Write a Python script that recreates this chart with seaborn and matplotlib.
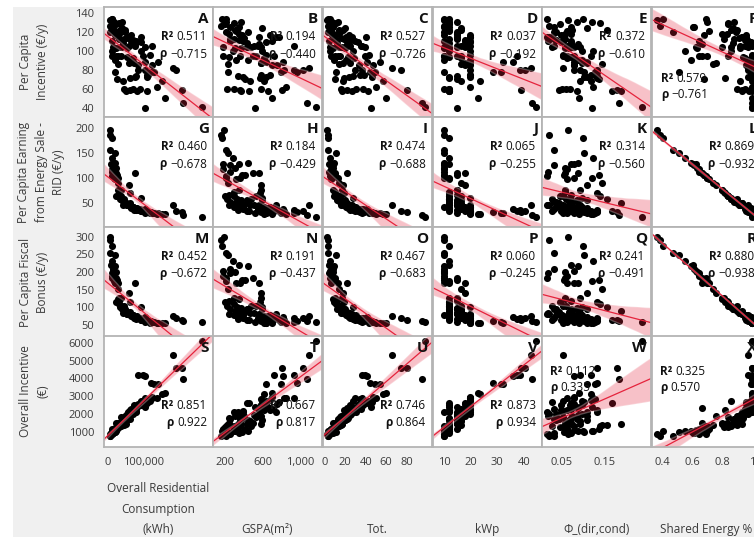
import numpy as np
import pandas as pd
import matplotlib
matplotlib.use('Agg')
import matplotlib.pyplot as plt
import seaborn as sns
from matplotlib.collections import PolyCollection
from matplotlib.patches import Rectangle

sns.set_style('white')
plt.rcParams['font.family'] = ['Open Sans', 'DejaVu Sans']

# ---- data (one entry per community) ----
tot = [2, 3, 3, 4, 4, 5, 5, 6, 6, 7, 7, 8, 8, 9, 9, 10, 10, 11, 11, 12,
       12, 13, 13, 14, 14, 15, 15, 16, 16, 17, 17, 18, 18, 19, 19, 20, 20, 21, 21, 22,
       22, 23, 24, 24, 25, 25, 26, 27, 27, 28, 28, 29, 30, 30, 31, 32, 33, 34, 35, 36,
       36, 37, 38, 39, 39, 40, 41, 42, 43, 44, 45, 46, 47, 49, 50, 54, 57, 60, 66, 74,
       80, 95, 98, 3, 5, 8, 10, 14, 18, 23]

consumption = [6500, 7300, 10500, 10800, 8600, 14900, 11500, 20300, 12200, 19800,
               17000, 23800, 28100, 19400, 24300, 32400, 24300, 32700, 20800, 32400,
               42100, 29800, 40400, 37800, 28400, 48600, 38500, 45400, 56200, 36700,
               50500, 48600, 60800, 46200, 61600, 54000, 40500, 65200, 53900, 62400,
               77200, 52800, 64800, 77800, 60800, 74300, 70200, 83800, 58300, 79400,
               94500, 70500, 81000, 105000, 71100, 95000, 84600, 110000, 75600, 85000,
               126000, 89900, 113000, 100000, 105000, 95000, 104000, 110000, 118000, 121000,
               105000, 112000, 125000, 130000, 138000, 141000, 154000, 163000, 186000, 192000,
               210000, 212000, 266000, 5000, 13000, 15000, 26000, 33000, 42000, 66000]

gspa = [198, 213, 170, 256, 354, 179, 216, 323, 180, 386, 212, 313, 355, 445, 203, 304, 500, 297, 241, 242,
        438, 367, 371, 478, 232, 442, 527, 221, 401, 586, 373, 308, 588, 253, 572, 374, 590, 319, 564, 360,
        558, 243, 676, 393, 511, 582, 349, 657, 746, 339, 590, 617, 398, 825, 296, 635, 756, 586, 551, 931,
        935, 585, 677, 722, 440, 777, 819, 460, 640, 965, 520, 634, 700, 792, 850, 640, 620, 700, 1087, 1028,
        808, 1070, 1163, 160, 290, 260, 420, 330, 470, 700]

kwp = [9.9, 9.9, 12, 9.9, 12, 9.9, 9.9, 12, 9.9, 9.9, 12, 9.9, 15, 9.9, 12, 12, 15, 12, 9.9, 15,
       12, 9.9, 15, 12, 16.5, 15, 16.5, 12, 15, 15, 12, 16.5, 18, 15, 12, 12, 16.5, 19.8, 15, 12,
       18, 12, 19.8, 12, 15, 19.8, 18, 12, 19.8, 15, 19.8, 16.5, 18, 19.8, 9.9, 19.8, 18, 19.8, 16.5, 38.5,
       19.8, 12, 19.8, 37.5, 18, 19.8, 36, 12, 19.8, 28.4, 15, 19.8, 19.8, 31.4, 19.8, 32, 23.5, 22.8, 42.5, 40.4,
       39, 43, 44.5, 9.9, 12, 9.9, 15, 12, 16.5, 19.8]

phi = [0.065, 0.033, 0.100, 0.018, 0.071, 0.078, 0.015, 0.063, 0.063, 0.055,
       0.120, 0.058, 0.058, 0.088, 0.047, 0.058, 0.058, 0.140, 0.103, 0.073,
       0.073, 0.078, 0.085, 0.028, 0.143, 0.038, 0.053, 0.060, 0.018, 0.093,
       0.188, 0.075, 0.108, 0.033, 0.133, 0.068, 0.110, 0.098, 0.020, 0.045,
       0.088, 0.073, 0.048, 0.108, 0.088, 0.098, 0.038, 0.085, 0.017, 0.133,
       0.098, 0.063, 0.053, 0.078, 0.050, 0.048, 0.078, 0.128, 0.033, 0.093,
       0.063, 0.070, 0.118, 0.118, 0.073, 0.028, 0.078, 0.168, 0.053, 0.133,
       0.120, 0.103, 0.078, 0.128, 0.123, 0.108, 0.118, 0.090, 0.053, 0.133,
       0.178, 0.183, 0.238, 0.020, 0.123, 0.033, 0.138, 0.155, 0.093, 0.073]

shared = [0.36, 0.47, 0.40, 0.64, 0.60, 0.62, 0.69, 0.71, 0.64, 0.68,
          0.70, 0.63, 0.80, 0.59, 0.84, 0.81, 0.66, 0.84, 0.51, 0.83,
          0.87, 0.70, 0.88, 0.86, 0.74, 0.89, 0.84, 0.90, 0.91, 0.80,
          0.93, 0.90, 0.76, 0.88, 0.82, 0.92, 0.87, 0.97, 0.93, 0.93,
          0.66, 0.94, 0.96, 0.99, 0.92, 1.0, 0.95, 0.98, 0.93, 1.0,
          0.86, 0.95, 0.97, 1.0, 0.95, 0.99, 0.96, 1.0, 0.95, 0.97,
          1.0, 0.99, 1.0, 1.0, 0.97, 0.96, 0.99, 1.0, 1.0, 1.0,
          1.0, 0.97, 1.0, 0.99, 1.0, 1.0, 1.0, 1.0, 0.97, 1.0,
          1.0, 1.0, 1.0, 0.38, 0.55, 0.61, 0.68, 0.86, 0.92, 0.97]

incentive_pc = [132, 120, 133, 110, 125, 104, 133, 121, 95, 117, 130, 103, 118, 90, 128, 112, 95, 129, 78, 118,
                108, 95, 130, 104, 86, 120, 95, 60, 114, 104, 58, 122, 87, 112, 72, 103, 124, 90, 115, 59,
                107, 94, 117, 73, 105, 87, 111, 58, 115, 74, 100, 93, 110, 80, 60, 109, 85, 75, 105, 80,
                105, 60, 75, 95, 104, 115, 88, 58, 96, 78, 40, 73, 85, 78, 62, 88, 68, 51, 82, 80,
                59, 45, 41, 126, 100, 125, 70, 122, 68, 110]

rid_pc = [195, 155, 180, 112, 128, 127, 104, 97, 118, 105, 100, 120, 75, 130, 64, 71, 110, 64, 150, 66,
          56, 100, 56, 57, 90, 51, 63, 57, 45, 75, 49, 49, 85, 52, 70, 48, 55, 42, 45, 49,
          110, 45, 41, 40, 46, 35, 42, 39, 45, 36, 60, 41, 37, 33, 42, 34, 37, 32, 37, 35,
          30, 37, 31, 33, 34, 34, 38, 33, 29, 31, 30, 32, 29, 30, 28, 29, 28, 27, 45, 34,
          32, 25, 22, 185, 140, 125, 105, 58, 46, 40]

fiscal_pc = [299, 255, 275, 196, 221, 204, 182, 170, 190, 176, 174, 200, 124, 216, 116, 127, 184, 108, 247, 118,
             96, 168, 99, 105, 153, 95, 104, 103, 83, 125, 89, 89, 140, 96, 115, 86, 96, 77, 82, 87,
             170, 82, 77, 72, 85, 69, 77, 74, 80, 67, 100, 75, 69, 64, 78, 64, 69, 62, 70, 70,
             58, 70, 61, 66, 64, 65, 72, 63, 56, 62, 57, 62, 57, 58, 55, 56, 55, 54, 76, 69,
             63, 60, 57, 290, 230, 208, 176, 102, 85, 74]

incentive_total = [880, 770, 1030, 870, 950, 1100, 870, 1160, 1140, 1000,
                   1070, 1030, 1510, 1040, 1290, 1250, 1490, 1350, 1020, 1500,
                   1440, 1350, 1710, 1310, 1370, 1670, 1820, 1410, 1920, 1430,
                   1460, 1870, 1870, 1720, 2230, 1680, 1660, 2000, 1980, 1750,
                   2340, 1760, 2250, 2110, 1970, 2490, 2000, 2380, 2120, 2090,
                   2740, 2210, 2170, 2900, 2120, 2500, 2590, 2850, 2310, 4190,
                   2930, 2500, 2800, 4200, 2610, 2680, 4150, 2610, 2750, 3720,
                   2400, 2700, 2950, 3660, 2900, 3660, 3100, 3160, 5310, 4560,
                   4560, 3970, 6090, 780, 1050, 960, 1180, 1380, 1600, 2300]

panel_letters = list('ABCDEFGHIJKLMNOPQRSTUVWX')
r2_values = ['0.511', '0.194', '0.527', '0.037', '0.372', '0.579',
             '0.460', '0.184', '0.474', '0.065', '0.314', '0.869',
             '0.452', '0.191', '0.467', '0.060', '0.241', '0.880',
             '0.851', '0.667', '0.746', '0.873', '0.112', '0.325']
rho_values = ['\u22120.715', '\u22120.440', '\u22120.726', '\u22120.192', '\u22120.610', '\u22120.761',
              '\u22120.678', '\u22120.429', '\u22120.688', '\u22120.255', '\u22120.560', '\u22120.932',
              '\u22120.672', '\u22120.437', '\u22120.683', '\u22120.245', '\u22120.491', '\u22120.938',
              '0.922', '0.817', '0.864', '0.934', '0.335', '0.570']

row_labels = ['Per Capita\nIncentive (\u20ac/y)',
              'Per Capita Earning\nfrom Energy Sale -\nRID (\u20ac/y)',
              'Per Capita Fiscal\nBonus (\u20ac/y)',
              'Overall Incentive\n(\u20ac)']
col_labels = ['Overall Residential\nConsumption\n(kWh)', 'GSPA(m\u00b2)', 'Tot.', 'kWp',
              '\u03a6_(dir,cond)', 'Shared Energy %']

df = pd.DataFrame({
    'consumption': consumption, 'gspa': gspa, 'tot': tot, 'kwp': kwp,
    'phi': phi, 'shared': shared,
    'incentive_pc': incentive_pc, 'rid_pc': rid_pc,
    'fiscal_pc': fiscal_pc, 'incentive_total': incentive_total,
})
x_cols = ['consumption', 'gspa', 'tot', 'kwp', 'phi', 'shared']
y_cols = ['incentive_pc', 'rid_pc', 'fiscal_pc', 'incentive_total']

# ---- axis settings ----
x_lims = [(-11000, 298000), (78, 1226), (-1.7, 104.7), (5.9, 46.7), (0.0045, 0.258), (0.327, 1.06)]
y_lims = [(30.6, 146), (1.4, 221), (15.7, 327.7), (157, 6376)]

x_ticks = [
    ([0, 50000, 100000, 150000, 200000, 250000], ['0', '', '100,000', '', '', '']),
    (list(range(100, 1201, 100)), ['', '200', '', '', '', '600', '', '', '', '1,000', '', '']),
    (list(range(0, 101, 10)), ['0', '', '20', '', '40', '', '60', '', '80', '', '']),
    ([20 / 3, 10, 40 / 3, 50 / 3, 20, 70 / 3, 80 / 3, 30, 100 / 3, 110 / 3, 40, 130 / 3, 140 / 3],
     ['', '10', '', '', '20', '', '', '30', '', '', '40', '', '']),
    ([0.025, 0.05, 0.075, 0.1, 0.125, 0.15, 0.175, 0.2, 0.225, 0.25],
     ['', '0.05', '', '', '', '0.15', '', '', '', '']),
    ([0.35, 0.4, 0.45, 0.5, 0.55, 0.6, 0.65, 0.7, 0.75, 0.8, 0.85, 0.9, 0.95, 1.0, 1.05],
     ['', '0.4', '', '', '', '0.6', '', '', '', '0.8', '', '', '', '1', '']),
]
y_ticks = [
    ([40, 60, 80, 100, 120, 140], ['40', '60', '80', '100', '120', '140']),
    ([25, 50, 75, 100, 125, 150, 175, 200], ['', '50', '', '100', '', '150', '', '200']),
    ([50, 100, 150, 200, 250, 300], ['50', '100', '150', '200', '250', '300']),
    ([1000, 2000, 3000, 4000, 5000, 6000], ['1000', '2000', '3000', '4000', '5000', '6000']),
]

W, H = 754, 537
col_left = [104, 213, 323, 433, 542, 652]
row_top = [7, 117, 227, 336]
pw, ph = 109, 110

fig = plt.figure(figsize=(W / 100, H / 100), dpi=100, facecolor='white')
fig.patches.append(Rectangle((13 / W, 0), 1, 1 - 7 / H, transform=fig.transFigure,
                             facecolor='#f0f0f0', edgecolor='none', zorder=-10))

txt_col = '#3a3a3a'
red = '#e5233c'


def stat_block(ax, k, i, j):
    letter = panel_letters[k]
    ax.text(1 - 4 / pw, 1 - 12 / ph, letter, transform=ax.transAxes, ha='right', va='center',
            fontsize=11, fontweight='bold', color='#111111')
    if letter == 'F':
        align, offs, xo = 'left', (71, 88), 9
    elif letter in 'WX':
        align, offs, xo = 'left', (35, 51), 8
    elif i == 3:
        align, offs, xo = 'right', (69, 86), 6
    else:
        align, offs, xo = 'right', (30, 47), 6
    for lab, val, yo in [('R\u00b2', r2_values[k], offs[0]), ('\u03c1', rho_values[k], offs[1])]:
        y = 1 - yo / ph
        if align == 'right':
            t = ax.text(1 - xo / pw, y, val, transform=ax.transAxes, ha='right', va='center',
                        fontsize=8.5, color='#111111')
            ax.annotate(lab, xy=(0, 0.5), xycoords=t, xytext=(-2.5, 0), textcoords='offset points',
                        ha='right', va='center', fontsize=8.5, fontweight='bold', color='#111111')
        else:
            t = ax.text(xo / pw, y, lab, transform=ax.transAxes, ha='left', va='center',
                        fontsize=8.5, fontweight='bold', color='#111111')
            ax.annotate(val, xy=(1, 0.5), xycoords=t, xytext=(2.5, 0), textcoords='offset points',
                        ha='left', va='center', fontsize=8.5, color='#111111')


for i, ycol in enumerate(y_cols):
    for j, xcol in enumerate(x_cols):
        h = ph + (1 if i == 3 else 0)
        ax = fig.add_axes([col_left[j] / W, 1 - (row_top[i] + h) / H, pw / W, h / H])
        ax.set_facecolor('white')
        ax.set_xlim(x_lims[j])
        ax.set_ylim(y_lims[i])
        sns.regplot(data=df, x=xcol, y=ycol, ax=ax, truncate=False, ci=95, n_boot=500, seed=3,
                    scatter_kws={'s': 26, 'color': 'black', 'alpha': 1, 'linewidths': 0},
                    line_kws={'color': red, 'lw': 0.9})
        for coll in ax.collections:
            if isinstance(coll, PolyCollection):
                coll.set_alpha(0.28)
        ax.set_xlim(x_lims[j])
        ax.set_ylim(y_lims[i])
        ax.set_xlabel('')
        ax.set_ylabel('')

        if i == 3:
            ax.set_xticks(x_ticks[j][0])
            ax.set_xticklabels(x_ticks[j][1])
        else:
            ax.set_xticks([])
        if j == 0:
            ax.set_yticks(y_ticks[i][0])
            ax.set_yticklabels(y_ticks[i][1])
        else:
            ax.set_yticks([])
        ax.tick_params(direction='out', length=4.5, width=0.8, color='#8a8a8a',
                       labelsize=8, labelcolor=txt_col, pad=2.5)
        for sp in ax.spines.values():
            sp.set_visible(True)
            sp.set_color('#b4b4b4')
            sp.set_linewidth(1.3)

        stat_block(ax, i * 6 + j, i, j)

# row titles on the left
row_x = [34, 41, 34, 34]
for i, lab in enumerate(row_labels):
    yc = row_top[i] + ph / 2
    fig.text(row_x[i] / W, 1 - yc / H, lab, rotation=90, ha='center', va='center',
             multialignment='center', fontsize=8.5, color=txt_col, linespacing=1.45)

# column titles at the bottom
for j, lab in enumerate(col_labels):
    xc = col_left[j] + pw / 2
    fig.text(xc / W, 1 / H, lab, ha='center', va='bottom', multialignment='center',
             fontsize=8.5, color=txt_col, linespacing=1.75)

fig.savefig('out.png', dpi=100, facecolor=fig.get_facecolor())
